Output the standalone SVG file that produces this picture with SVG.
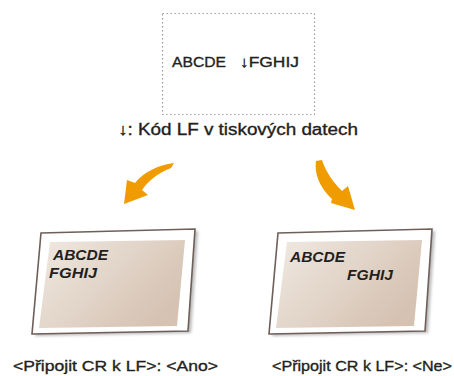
<svg xmlns="http://www.w3.org/2000/svg" width="454" height="376" viewBox="0 0 454 376">
<defs>
<style>
.t{font-family:"Liberation Sans",Arial,sans-serif;fill:#231f20;stroke:#231f20;stroke-width:0.35}
.pt{font-family:"Liberation Sans",Arial,sans-serif;font-weight:bold;font-style:italic;font-size:14px;fill:#231f20}
.frame{fill:#fff;stroke:#6e5f58;stroke-width:1.6}
.arrow{fill:#f09c00}
</style>
<linearGradient id="paper" x1="0" y1="0" x2="1" y2="0.6">
<stop offset="0" stop-color="#f0e9e2"/>
<stop offset="1" stop-color="#d5c2b2"/>
</linearGradient>
<filter id="sh" x="-10%" y="-10%" width="120%" height="120%">
<feGaussianBlur stdDeviation="1.5"/>
</filter>
</defs>
<rect width="454" height="376" fill="#fff"/>

<g id="source">
<rect x="162.5" y="13.5" width="152" height="101" fill="none" stroke="#9a9a9a" stroke-width="1.2" stroke-dasharray="1.4,2.6"/>
<text class="t" font-size="15" y="67"><tspan x="172" textLength="54" lengthAdjust="spacingAndGlyphs">ABCDE</tspan><tspan x="240" textLength="59" lengthAdjust="spacingAndGlyphs">↓FGHIJ</tspan></text>
<text class="t" font-size="16" x="118" y="135" textLength="240" lengthAdjust="spacingAndGlyphs">↓: Kód LF v tiskových datech</text>
</g>

<g id="connectors">
<path class="arrow" d="M174,163 C158,165 144,172 135,183 L127,180 L124,204 L148,195 L142,190 C148,181 158,173 171,168 Z"/>
<path class="arrow" d="M316,161 C314,174 320,188 332,199 L331,203 L355,210 L348,186 L342,191 C333,182 326,172 322,160 Z"/>
</g>

<g id="paper-ano">
<polygon points="44,235 198,231 191,333 35,336" fill="#8a8a8a" opacity="0.6" filter="url(#sh)"/>
<polygon class="frame" points="41,233 195,229 188,331 32,334"/>
<polygon points="50,242 185,240 177,326 39,328" fill="url(#paper)"/>
<text class="pt" x="53" y="260" textLength="55" lengthAdjust="spacingAndGlyphs">ABCDE</text>
<text class="pt" x="49" y="278" textLength="48" lengthAdjust="spacingAndGlyphs">FGHIJ</text>
<text class="t" font-size="15" x="13" y="371" textLength="205" lengthAdjust="spacingAndGlyphs">&lt;Připojit CR k LF&gt;: &lt;Ano&gt;</text>
</g>

<g id="paper-ne">
<polygon points="281,235 435,231 428,333 272,336" fill="#8a8a8a" opacity="0.6" filter="url(#sh)"/>
<polygon class="frame" points="278,233 432,229 425,331 269,334"/>
<polygon points="287,242 422,240 414,326 276,328" fill="url(#paper)"/>
<text class="pt" x="290" y="262" textLength="55" lengthAdjust="spacingAndGlyphs">ABCDE</text>
<text class="pt" x="347" y="280" textLength="46" lengthAdjust="spacingAndGlyphs">FGHIJ</text>
<text class="t" font-size="15" x="272" y="371" textLength="180" lengthAdjust="spacingAndGlyphs">&lt;Připojit CR k LF&gt;: &lt;Ne&gt;</text>
</g>
</svg>
